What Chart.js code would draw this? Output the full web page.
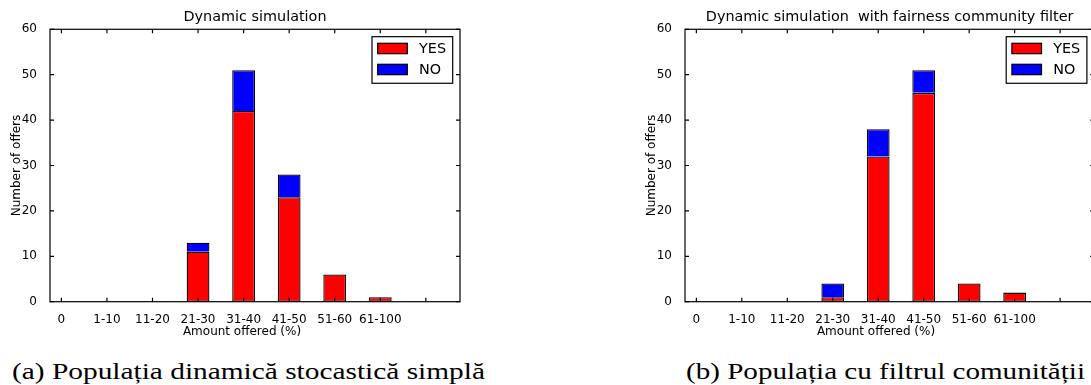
<!DOCTYPE html>
<html>
<head>
<meta charset="utf-8">
<script src="https://cdn.jsdelivr.net/npm/chart.js@4.4.1/dist/chart.umd.min.js"></script>
<style>
  html, body { margin: 0; padding: 0; background: #fff; overflow: hidden; }
  body { width: 1091px; height: 385px; position: relative; }
  .plot { position: absolute; top: 0; }
  #plotA { left: 0; }
  #plotB { left: 600px; }
  .xlab { position: absolute; top: 325px; font: 12px/1 "DejaVu Sans"; white-space: nowrap; transform: translateX(-50%); }
  .cap { position: absolute; top: 359px; font: 24px/1 "Liberation Serif"; white-space: nowrap; transform-origin: 0 0; }
</style>
</head>
<body>
<div class="plot" id="plotA"><canvas id="chartA" width="480" height="330"></canvas></div>
<div class="plot" id="plotB"><canvas id="chartB" width="520" height="330"></canvas></div>
<div class="xlab" style="left:242px">Amount offered (%)</div>
<div class="xlab" style="left:876px">Amount offered (%)</div>
<div class="cap" data-w="473" style="left:12px">(a) Populația dinamică stocastică simplă</div>
<div class="cap" data-w="399" style="left:686px">(b) Populația cu filtrul comunității</div>
<script>
// tick labels of the x axis (last tick has no label)
const xLabels = ['0', '1-10', '11-20', '21-30', '31-40', '41-50', '51-60', '61-100', ''];

// (a) dynamic simulation
const yesA = [0, 0, 0, 11, 42, 23, 6, 1];
const noA  = [0, 0, 0, 2, 9, 5, 0, 0];

// (b) with fairness community filter
const yesB = [0, 0, 0, 1, 32, 46, 4, 2];
const noB  = [0, 0, 0, 3, 6, 5, 0, 0];

Chart.defaults.font.family = '"DejaVu Sans"';
Chart.defaults.color = '#000';

const toPoints = arr => arr.map((v, i) => ({ x: i, y: v }));

// matplotlib-like frame with inward ticks on all four sides
const frame = {
  id: 'frame',
  afterDatasetsDraw(chart) {
    const { ctx, chartArea: a, scales: { x, y } } = chart;
    ctx.save();
    ctx.strokeStyle = '#000';
    ctx.lineWidth = 1.2;
    ctx.beginPath();
    x.ticks.forEach((t, i) => {
      const px = x.getPixelForTick(i);
      ctx.moveTo(px, a.bottom); ctx.lineTo(px, a.bottom - 4);
      ctx.moveTo(px, a.top); ctx.lineTo(px, a.top + 4);
    });
    y.ticks.forEach((t, i) => {
      const py = y.getPixelForTick(i);
      ctx.moveTo(a.left, py); ctx.lineTo(a.left + 4, py);
      ctx.moveTo(a.right, py); ctx.lineTo(a.right - 4, py);
    });
    ctx.stroke();
    ctx.strokeRect(a.left, a.top, a.right - a.left, a.bottom - a.top);
    ctx.restore();
  }
};

// boxed legend in the upper right corner of the plot area
const boxLegend = {
  id: 'boxLegend',
  afterDraw(chart) {
    const { ctx, chartArea: a } = chart;
    const w = 80.7, h = 46.6;
    const left = a.right - 7.3 - w, top = a.top + 7.4;
    ctx.save();
    ctx.fillStyle = '#fff';
    ctx.fillRect(left, top, w, h);
    ctx.strokeStyle = '#000';
    ctx.lineWidth = 1.2;
    ctx.strokeRect(left, top, w, h);
    ctx.font = '14.4px "DejaVu Sans"';
    ctx.textBaseline = 'middle';
    chart.data.datasets.forEach((ds, i) => {
      const py = top + 6.6 + i * 21;
      ctx.fillStyle = ds.backgroundColor;
      ctx.fillRect(left + 5.7, py, 29.6, 10.4);
      ctx.strokeRect(left + 5.7, py, 29.6, 10.4);
      ctx.fillStyle = '#000';
      ctx.fillText(ds.label, left + 47, py + 5.6);
    });
    ctx.restore();
  }
};

function makeChart(id, title, yes, no, yAxisW, yTitlePad, padRight) {
  return new Chart(document.getElementById(id), {
    type: 'bar',
    data: {
      datasets: [
        { label: 'YES', data: toPoints(yes), backgroundColor: '#ff0000', borderColor: '#000',
          borderWidth: 1.3, borderSkipped: false, categoryPercentage: 1, barPercentage: 0.5 },
        { label: 'NO', data: toPoints(no), backgroundColor: '#0000ff', borderColor: '#000',
          borderWidth: 1.3, borderSkipped: 'start', categoryPercentage: 1, barPercentage: 0.5 }
      ]
    },
    options: {
      responsive: false,
      animation: false,
      layout: { padding: { left: 0, right: padRight, top: 0, bottom: 0 } },
      plugins: {
        legend: { display: false },
        tooltip: { enabled: false },
        title: {
          display: true, text: title, fullSize: false, color: '#000',
          font: { size: 14.4, weight: 'normal' },
          padding: { top: 9.1, bottom: 2.9 }
        }
      },
      scales: {
        x: {
          type: 'linear', min: -0.25, max: 8.75, stacked: true, offset: false,
          grid: { display: false, offset: false }, border: { display: false },
          afterBuildTicks: s => { s.ticks = xLabels.map((l, i) => ({ value: i })); },
          afterFit: s => { s.height = 28.3; },
          ticks: {
            autoSkip: false, maxRotation: 0, padding: 3, font: { size: 12 },
            callback: v => xLabels[Math.round(v)]
          }
        },
        y: {
          min: 0, max: 60, stacked: true,
          grid: { display: false }, border: { display: false },
          afterFit: s => { s.width = yAxisW; },
          ticks: { stepSize: 10, padding: 5, font: { size: 12 } },
          title: {
            display: true, text: 'Number of offers', color: '#000',
            font: { size: 12 }, padding: { top: yTitlePad, bottom: 0 }
          }
        }
      }
    },
    plugins: [frame, boxLegend]
  });
}

makeChart('chartA', 'Dynamic simulation', yesA, noA, 50, 9.5, 20);
makeChart('chartB', 'Dynamic simulation  with fairness community filter', yesB, noB, 85, 44.5, 25.8);

// stretch the captions to the width of the original serif typesetting
document.querySelectorAll('.cap').forEach(el => {
  const w = el.getBoundingClientRect().width;
  el.style.transform = 'scaleX(' + (Number(el.dataset.w) / w) + ')';
});
</script>
</body>
</html>
